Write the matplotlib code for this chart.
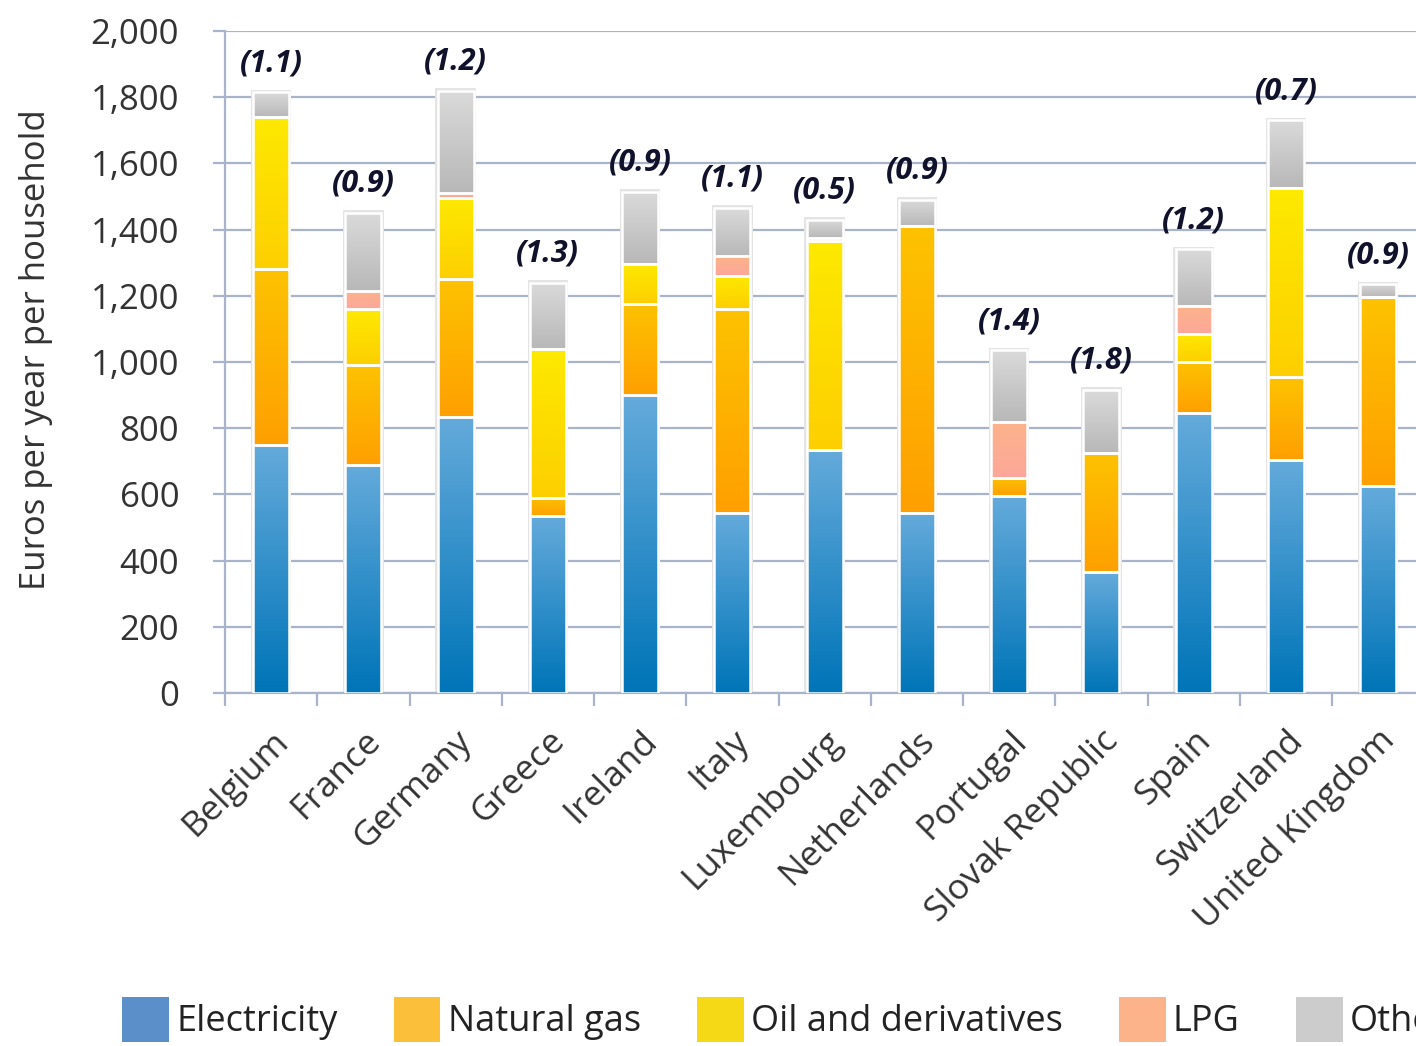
import numpy as np
import matplotlib
matplotlib.use('Agg')
from matplotlib import pyplot as plt
from matplotlib.patches import Patch
from matplotlib.colors import LinearSegmentedColormap

plt.rcParams['font.family'] = ['Open Sans', 'DejaVu Sans']

# data
countries = ['Belgium', 'France', 'Germany', 'Greece', 'Ireland', 'Italy', 'Luxembourg',
             'Netherlands', 'Portugal', 'Slovak Republic', 'Spain', 'Switzerland', 'United Kingdom']
electricity = [750, 690, 835, 535, 900, 545, 735, 545, 595, 365, 845, 705, 625]
natural_gas = [530, 300, 415, 55, 275, 615, 0, 865, 55, 360, 155, 250, 570]
oil = [460, 170, 245, 450, 120, 100, 630, 0, 0, 0, 85, 570, 0]
lpg = [0, 55, 15, 0, 0, 60, 10, 0, 170, 0, 85, 0, 0]
other = [75, 235, 310, 200, 220, 145, 55, 80, 215, 190, 170, 205, 40]
ratios = ['(1.1)', '(0.9)', '(1.2)', '(1.3)', '(0.9)', '(1.1)', '(0.5)',
          '(0.9)', '(1.4)', '(1.8)', '(1.2)', '(0.7)', '(0.9)']

series = [electricity, natural_gas, oil, lpg, other]
names = ['Electricity', 'Natural gas', 'Oil and derivatives', 'LPG', 'Other']
# gradient colours (top, bottom) for the bars, flat colours for the legend
grad = [('#64aadb', '#0075b8'), ('#fdc200', '#ffa000'), ('#fde900', '#fdcf00'),
        ('#fdb38a', '#fca79a'), ('#dadada', '#b8b8b8')]
legend_colors = ['#5b8fc9', '#fbbf3a', '#f5d916', '#fdb38a', '#cccccc']

grid_col = '#a7b4ca'
text_col = '#333333'

fig = plt.figure(figsize=(14.16, 10.46), dpi=100)
ax = fig.add_axes([225 / 1416, 353 / 1046, 1191 / 1416, 662 / 1046])

x = np.arange(len(countries))
width = 0.39
totals = np.sum(series, axis=0)

# soft grey halo behind the bars
ax.bar(x, totals + 8, width + 0.05, color='#e4e4e4', zorder=2)

bottom = np.zeros(len(countries))
for vals, (ctop, cbot) in zip(series, grad):
    vals = np.array(vals, dtype=float)
    bars = ax.bar(x, vals, width, bottom=bottom, facecolor='none',
                  edgecolor='white', linewidth=1.8, zorder=4)
    cmap = LinearSegmentedColormap.from_list('g', [cbot, ctop])
    g = np.linspace(0, 1, 64).reshape(-1, 1)
    for b in bars:
        if b.get_height() <= 0:
            continue
        x0, y0 = b.get_x(), b.get_y()
        ax.imshow(g, cmap=cmap, origin='lower', aspect='auto', zorder=3,
                  extent=[x0, x0 + b.get_width(), y0, y0 + b.get_height()])
    bottom += vals

for xi, t, lab in zip(x, totals, ratios):
    ax.annotate(lab, (xi, t), xytext=(0, 21), textcoords='offset points',
                ha='center', va='center', fontsize=22, fontweight='bold',
                fontstyle='italic', color='#10112a', zorder=6)

ax.set_xlim(-0.5, 12.41)
ax.set_ylim(0, 2000)
ax.set_yticks(np.arange(0, 2001, 200))
ax.yaxis.set_major_formatter(matplotlib.ticker.StrMethodFormatter('{x:,.0f}'))
ax.grid(axis='y', color=grid_col, linewidth=1.6, zorder=1)
ax.set_axisbelow(True)

ax.set_xticks(x)
ax.set_xticks(np.arange(-0.5, 12.5, 1), minor=True)
ax.tick_params(axis='x', which='major', length=0, pad=22)
ax.tick_params(axis='x', which='minor', length=9, width=1.6, color=grid_col, direction='out')
ax.tick_params(axis='y', length=9, width=1.6, color=grid_col, labelsize=25,
               labelcolor=text_col, pad=24)
ax.set_xticklabels(countries, rotation=45, ha='right', rotation_mode='anchor',
                   fontsize=25.5, color=text_col)

for s in ['top', 'right']:
    ax.spines[s].set_visible(False)
for s in ['left', 'bottom']:
    ax.spines[s].set_color(grid_col)
    ax.spines[s].set_linewidth(1.6)

ax.set_ylabel('Euros per year per household', fontsize=25, color=text_col)
ax.yaxis.set_label_coords(-0.144, 0.518)

handles = [Patch(facecolor=c, edgecolor='none') for c in legend_colors]
fig.legend(handles, names, loc='lower left', bbox_to_anchor=(122 / 1416, 4 / 1046),
           ncol=5, frameon=False, fontsize=26, handlelength=1.3, handleheight=1.55,
           handletextpad=0.2, columnspacing=1.55, borderpad=0, borderaxespad=0,
           labelcolor='#222222')

plt.savefig('out.png', dpi=100)
